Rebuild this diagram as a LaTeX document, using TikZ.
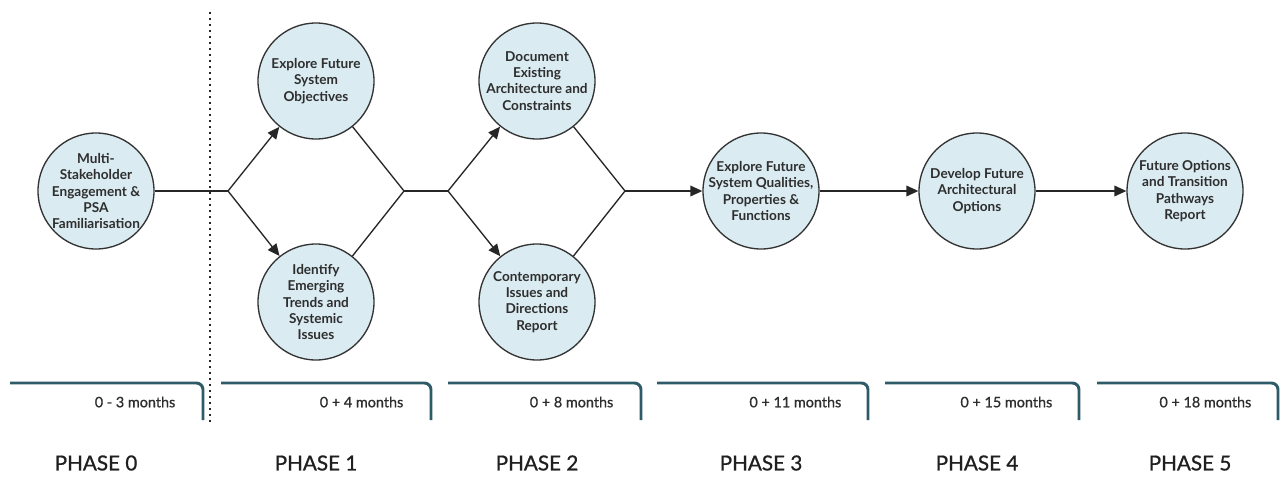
\documentclass[tikz,border=0pt]{standalone}
\usepackage{fontspec}
\setmainfont{Lato}
\newfontfamily\mediumfont{Lato}[FakeBold=0.9]
\usetikzlibrary{positioning,arrows.meta}
\definecolor{stagefill}{HTML}{DAEBF2}
\definecolor{spanline}{HTML}{2E5B68}

\begin{document}
\begin{tikzpicture}[
  x=0.75pt, y=-0.75pt,
  stage/.style={circle, draw=black!80, fill=stagefill, line width=1pt,
                minimum size=87pt, inner sep=-9pt, align=center,
                font=\fontsize{10.2}{12.2}\selectfont\bfseries, text=black!82},
  flow/.style={line width=1pt, black!85},
  flowarrow/.style={flow, -{Triangle[length=9pt, width=8pt]}},
  spanbar/.style={line width=2.2pt, draw=spanline, rounded corners=5pt},
  divider/.style={line width=1.2pt, dash pattern=on 1.2pt off 3.3pt, black!85},
  months/.style={anchor=east, font=\mediumfont\fontsize{10.8}{12}\selectfont,
                 text=black!82},
  phase/.style={font=\mediumfont\fontsize{15.5}{17}\selectfont, text=black!88},
]
  \useasboundingbox (0,0) rectangle (1287,478);

  % Phase 0
  \node[stage] (psa) at (96,191)
    {Multi-\\Stakeholder\\Engagement \&\\PSA\\Familiarisation};
  \draw[divider] (210,12) -- (210,422);

  % Phase 1: two parallel streams
  \coordinate (split1) at (228,191);
  \coordinate (join1) at (404,191);
  \node[stage] (objectives) at (316,81) {Explore Future\\System\\Objectives};
  \node[stage] (trends) at (316,302)
    {Identify\\Emerging\\Trends and\\Systemic\\Issues};
  \draw[flow] (psa) -- (split1);
  \draw[flowarrow] (split1) -- (objectives);
  \draw[flowarrow] (split1) -- (trends);
  \draw[flow] (objectives) -- (join1);
  \draw[flow] (trends) -- (join1);

  % Phase 2: two parallel streams
  \coordinate (split2) at (448,191);
  \coordinate (join2) at (625,191);
  \node[stage] (existing) at (537,81)
    {Document\\Existing\\Architecture and\\Constraints};
  \node[stage] (issues) at (537,302)
    {Contemporary\\Issues and\\Directions\\Report};
  \draw[flow] (join1) -- (split2);
  \draw[flowarrow] (split2) -- (existing);
  \draw[flowarrow] (split2) -- (issues);
  \draw[flow] (existing) -- (join2);
  \draw[flow] (issues) -- (join2);

  % Phases 3 to 5
  \node[stage] (qualities) at (761,191)
    {Explore Future\\System Qualities,\\Properties \&\\Functions};
  \node[stage] (options) at (977,191)
    {Develop Future\\Architectural\\Options};
  \node[stage] (pathways) at (1185,191)
    {Future Options\\and Transition\\Pathways\\Report};
  \draw[flowarrow] (join2) -- (qualities);
  \draw[flowarrow] (qualities) -- (options);
  \draw[flowarrow] (options) -- (pathways);

  % Timeline brackets
  \draw[spanbar] (10,383) -- (203,383) -- (203,420);
  \draw[spanbar] (221,383) -- (431,383) -- (431,420);
  \draw[spanbar] (448,383) -- (641,383) -- (641,420);
  \draw[spanbar] (657,383) -- (868,383) -- (868,420);
  \draw[spanbar] (885,383) -- (1079,383) -- (1079,420);
  \draw[spanbar] (1097,383) -- (1278,383) -- (1278,420);
  \node[months] (m0) at (180,402) {0 - 3 months};
  \node[months] (m1) at (408,402) {0 + 4 months};
  \node[months] (m2) at (618,402) {0 + 8 months};
  \node[months] (m3) at (846,402) {0 + 11 months};
  \node[months] (m4) at (1057,402) {0 + 15 months};
  \node[months] (m5) at (1256,402) {0 + 18 months};

  % Phase labels
  \node[phase] (p0) at (96,463) {PHASE 0};
  \node[phase] (p1) at (316,463) {PHASE 1};
  \node[phase] (p2) at (537,463) {PHASE 2};
  \node[phase] (p3) at (761,463) {PHASE 3};
  \node[phase] (p4) at (977,463) {PHASE 4};
  \node[phase] (p5) at (1190,463) {PHASE 5};
\end{tikzpicture}
\end{document}
